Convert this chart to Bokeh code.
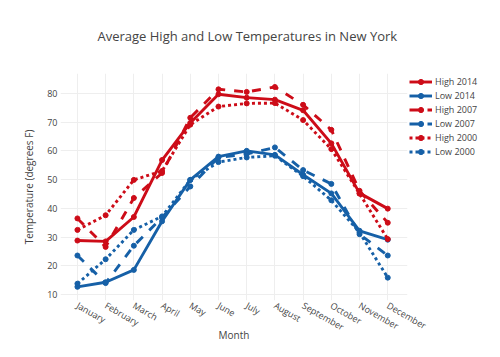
from bokeh.plotting import figure
from bokeh.models import Range1d, Legend, LegendItem, FixedTicker
from bokeh.embed import file_html
from bokeh.resources import INLINE

months = ["January", "February", "March", "April", "May", "June", "July",
          "August", "September", "October", "November", "December"]
high_2000 = [32.5, 37.6, 49.9, 53.0, 69.1, 75.4, 76.5, 76.6, 70.7, 60.6, 45.1, 29.3]
low_2000 = [13.8, 22.3, 32.5, 37.2, 49.9, 56.1, 57.7, 58.3, 51.2, 42.8, 31.6, 15.9]
high_2007 = [36.5, 26.6, 43.6, 52.3, 71.5, 81.4, 80.5, 82.2, 76.0, 67.3, 46.1, 35.0]
low_2007 = [23.6, 14.0, 27.0, 36.8, 47.6, 57.7, 58.9, 61.2, 53.3, 48.5, 31.0, 23.6]
high_2014 = [28.8, 28.5, 37.0, 56.8, 69.7, 79.7, 78.5, 77.8, 74.1, 62.6, 45.3, 39.9]
low_2014 = [12.7, 14.3, 18.6, 35.5, 49.9, 58.0, 60.0, 58.6, 51.7, 45.2, 32.2, 29.1]
y_ticks = [10, 20, 30, 40, 50, 60, 70, 80]

RED = "#cd0c18"
BLUE = "#1660a7"
FONT = "Open Sans"
TXT = "#444444"

x = list(range(len(months)))

p = figure(output_backend="svg", toolbar_location=None,
           x_range=Range1d(-0.6, 11.7), y_range=Range1d(7.95, 86.9),
           frame_width=347, frame_height=227,
           min_border_left=60, min_border_right=89, min_border_top=72, min_border_bottom=51,
           title="Average High and Low Temperatures in New York")
p.outline_line_color = None
p.background_fill_color = "white"
p.border_fill_color = "white"

p.title.align = "left"
p.title.offset = 37
p.title.vertical_align = "top"
p.title.text_font = FONT
p.title.text_font_size = "13px"
p.title.text_font_style = "normal"
p.title.text_color = TXT
p.title.standoff = 53

series = [
    ("High 2014", high_2014, RED, "solid"),
    ("Low 2014", low_2014, BLUE, "solid"),
    ("High 2007", high_2007, RED, "9 9"),
    ("Low 2007", low_2007, BLUE, "9 9"),
    ("High 2000", high_2000, RED, "3 3"),
    ("Low 2000", low_2000, BLUE, "3 3"),
]
items = []
for name, ys, col, dash in series:
    l = p.line(x, ys, line_color=col, line_width=2.9, line_dash=dash)
    s = p.scatter(x, ys, size=5, fill_color=col, line_color=col)
    items.append(LegendItem(label=name, renderers=[l, s]))

legend = Legend(items=items, location="top_left")
legend.label_text_font = FONT
legend.label_text_font_size = "9px"
legend.label_text_color = TXT
legend.glyph_width = 23
legend.glyph_height = 13
legend.label_height = 13
legend.label_standoff = 3
legend.spacing = 1
legend.padding = 7
legend.margin = 2
legend.border_line_color = None
legend.background_fill_alpha = 0
p.add_layout(legend, "right")

for ax in (p.xaxis[0], p.yaxis[0]):
    ax.axis_line_color = None
    ax.major_tick_line_color = None
    ax.minor_tick_line_color = None
    ax.major_tick_out = 0
    ax.major_tick_in = 0
    ax.minor_tick_out = 0
    ax.minor_tick_in = 0
    ax.major_label_text_font = FONT
    ax.major_label_text_font_size = "9px"
    ax.major_label_text_color = TXT
    ax.axis_label_text_font = FONT
    ax.axis_label_text_font_size = "10px"
    ax.axis_label_text_font_style = "normal"
    ax.axis_label_text_color = TXT

p.xaxis.ticker = FixedTicker(ticks=x)
p.xaxis.major_label_overrides = {i: m for i, m in enumerate(months)}
p.xaxis.major_label_orientation = -0.5236
p.xaxis.major_label_standoff = 4
p.xaxis.axis_label = "Month"
p.xaxis.axis_label_standoff = -14

p.yaxis.ticker = FixedTicker(ticks=y_ticks)
p.yaxis.major_label_standoff = 3
p.yaxis.axis_label = "Temperature (degrees F)"
p.yaxis.axis_label_standoff = 8

p.xgrid.grid_line_color = "#eeeeee"
p.ygrid.grid_line_color = "#eeeeee"
p.xgrid.grid_line_width = 1
p.ygrid.grid_line_width = 1

open("out.html", "w").write(file_html(p, INLINE))
